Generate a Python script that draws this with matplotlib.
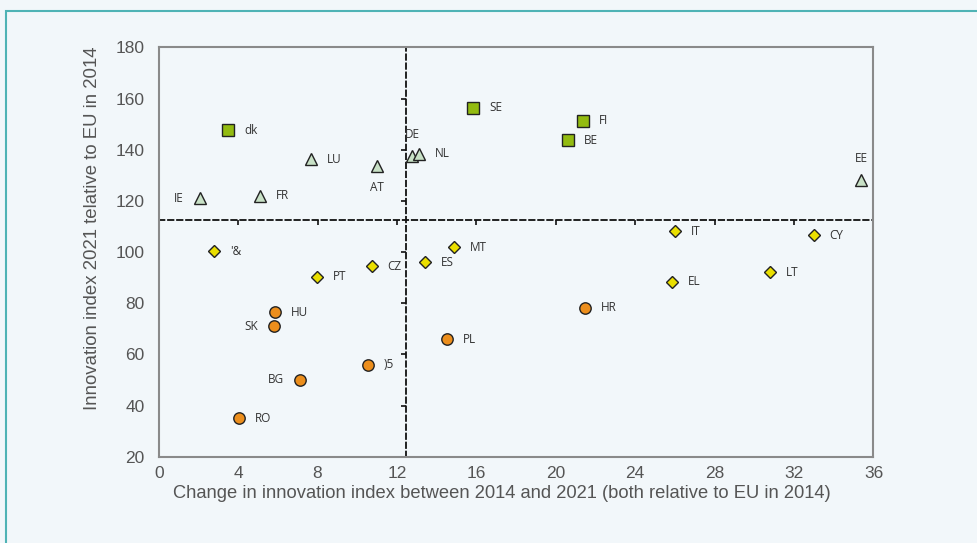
import matplotlib
matplotlib.use("Agg")
import matplotlib.pyplot as plt
from matplotlib.patches import Rectangle

# ---- data ----
sq_labels = ["dk", "SE", "FI", "BE"]
sq_x = [3.50, 15.84, 21.35, 20.63]
sq_y = [147.6, 156.5, 151.4, 143.8]

tri_labels = ["IE", "FR", "LU", "AT", "DE", "NL", "EE"]
tri_x = [2.08, 5.10, 7.65, 10.98, 12.77, 13.12, 35.38]
tri_y = [121.0, 122.1, 136.4, 133.7, 137.6, 138.4, 128.2]

dia_labels = ["'&", "PT", "CZ", "ES", "MT", "IT", "CY", "LT", "EL"]
dia_x = [2.78, 7.97, 10.72, 13.39, 14.87, 26.01, 32.98, 30.78, 25.83]
dia_y = [100.4, 90.3, 94.4, 96.1, 101.9, 108.2, 106.6, 92.2, 88.4]

cir_labels = ["HU", "SK", ")5", "BG", "RO", "PL", "HR"]
cir_x = [5.84, 5.79, 10.54, 7.13, 4.03, 14.52, 21.45]
cir_y = [76.4, 71.0, 56.0, 50.1, 35.1, 66.0, 78.3]

# label placement: r=right, l=left, a=above, b=below
label_pos = {"IE": "l", "SK": "l", "BG": "l", "AT": "b", "DE": "a", "EE": "a"}

x_cross = 12.47
y_cross = 112.7
x_ticks = list(range(0, 37, 4))
y_ticks = list(range(20, 181, 20))

x_label = "Change in innovation index between 2014 and 2021 (both relative to EU in 2014)"
y_label = "Innovation index 2021 telative to EU in 2014"

BG = "#f2f7fa"
plt.rcParams["font.family"] = ["Liberation Sans", "DejaVu Sans"]

fig = plt.figure(figsize=(9.78, 5.43), dpi=100, facecolor=BG)
frame = Rectangle((6.5 / 978, 0 - 0.05), 1.2, (543 - 10.5) / 543 + 0.05,
                  transform=fig.transFigure, fill=False, edgecolor="#4fb3b5",
                  linewidth=1.5, clip_on=False)
fig.patches.append(frame)

ax = fig.add_axes([158.7 / 978, 86.3 / 543, (873.5 - 158.7) / 978, (456.7 - 47.5) / 543])
ax.set_facecolor(BG)
ax.set_xlim(0, 36)
ax.set_ylim(20, 180)
ax.set_xticks(x_ticks)
ax.set_yticks(y_ticks)
ax.tick_params(length=0, labelsize=12.5, labelcolor="#555555")
ax.tick_params(axis="x", pad=7)
ax.tick_params(axis="y", pad=10)
for s in ax.spines.values():
    s.set_color("#8a8a8a")
    s.set_linewidth(1.5)

fig.text(502 / 978, 1 - 493 / 543, x_label, ha="center", va="center",
         fontsize=13.2, color="#555555")
fig.text(93 / 978, 1 - 228 / 543, y_label, rotation=90, ha="center", va="center",
         fontsize=13.4, color="#555555")

# crossing axes (dashed) with tick marks
dash = (0, (3.0, 2.0))
sy = ax.secondary_yaxis(x_cross / 36)
sy.set_alignment("left")
sy.set_yticks(y_ticks)
sy.set_yticklabels([])
sy.tick_params(length=3.5, width=1.2, color="#111111", direction="out")
sx = ax.secondary_xaxis((y_cross - 20) / 160)
sx.set_alignment("bottom")
sx.set_xticks(x_ticks)
sx.set_xticklabels([])
sx.tick_params(length=3.5, width=1.2, color="#111111", direction="out")
for sec in (sx, sy):
    for s in sec.spines.values():
        s.set_linestyle(dash)
        s.set_color("#111111")
        s.set_linewidth(1.3)

groups = [
    (sq_x, sq_y, sq_labels, "s", 8.0, "#93bb10"),
    (tri_x, tri_y, tri_labels, "^", 8.6, "#c8e1c6"),
    (dia_x, dia_y, dia_labels, "D", 5.7, "#eadf00"),
    (cir_x, cir_y, cir_labels, "o", 8.2, "#ec8e1c"),
]
for xs, ys, labs, mk, ms, col in groups:
    ax.plot(xs, ys, linestyle="none", marker=mk, markersize=ms,
            markerfacecolor=col, markeredgecolor="#222222", markeredgewidth=1.0,
            zorder=3, clip_on=False)
    for x, y, lab in zip(xs, ys, labs):
        p = label_pos.get(lab, "r")
        if p == "r":
            off, ha, va = (16, 0), "left", "center"
        elif p == "l":
            off, ha, va = (-16, 0), "right", "center"
        elif p == "a":
            off, ha, va = (0, 21), "center", "center"
        else:
            off, ha, va = (0, -22), "center", "center"
        ax.annotate(lab, (x, y), xytext=off, textcoords="offset pixels",
                    ha=ha, va=va, fontsize=8.5, color="#333333",
                    family=["Open Sans", "DejaVu Sans"], zorder=4)

fig.savefig("out.png", dpi=100, facecolor=BG)
